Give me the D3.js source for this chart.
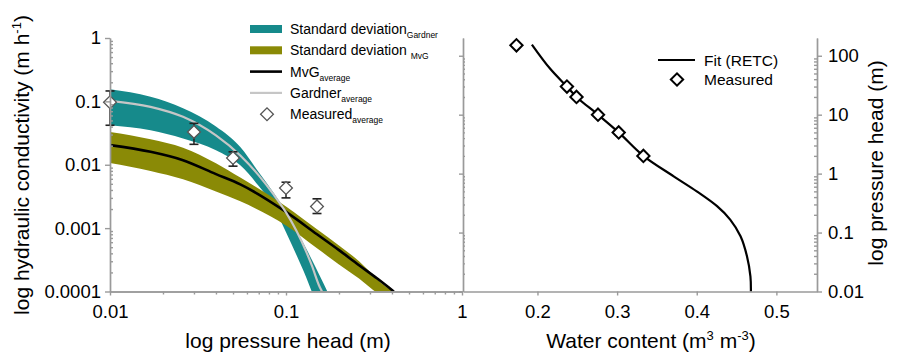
<!DOCTYPE html>
<html><head><meta charset="utf-8">
<script src="https://cdn.jsdelivr.net/npm/d3@7"></script>
<style>
body{margin:0;background:#fff}
svg{display:block}
text{font-family:"Liberation Sans",Arial,Helvetica,sans-serif;fill:#000}
</style>
</head><body>
<svg id="chart" width="898" height="359"></svg>
<script>
// ---------- DATA ----------
// Left panel: hydraulic conductivity K (m/h) vs pressure head h (m)
const tealH  = [0.01,0.017,0.026,0.04,0.055,0.07,0.085,0.1,0.115,0.13,0.14,0.155,0.175];
const tealHi = [0.155,0.118,0.078,0.040,0.019,0.0076,0.0036,0.0018,0.00092,0.00048,0.00032,0.00018,0.00009];
const tealLo = [0.042,0.035,0.026,0.017,0.0098,0.0046,0.0022,0.00086,0.00037,0.00017,0.0001,0.00005,0.000024];

const gardnerH = [0.01,0.017,0.026,0.04,0.055,0.07,0.085,0.1,0.115,0.13,0.14,0.155,0.16,0.165];
const gardnerK = [0.102,0.082,0.057,0.029,0.014,0.0068,0.0034,0.00177,0.00089,0.00043,0.00026,0.00012,0.0001,0.00008];

const oliveH  = [0.01,0.017,0.026,0.04,0.055,0.1,0.15,0.2,0.26,0.31,0.35,0.41];
const oliveHi = [0.033,0.0253,0.0186,0.0106,0.0063,0.0022,0.00096,0.00053,0.0003,0.000186,0.000134,0.0001];
const oliveLo = [0.0107,0.008,0.0059,0.0038,0.00265,0.0011,0.00048,0.000267,0.00016,0.000108,0.0000834,0.0000646];

const mvgH = [0.01,0.017,0.026,0.04,0.055,0.1,0.15,0.2,0.26,0.33,0.41];
const mvgK = [0.0204,0.016,0.0118,0.0071,0.0049,0.0018,0.0008,0.00045,0.00026,0.00016,0.0001];

const measH    = [0.01,0.03,0.05,0.1,0.15];
const measK    = [0.097,0.033,0.0128,0.0043,0.0022];
const measKlow = [0.042,0.021,0.0095,0.0030,0.0017];
const measKhi  = [0.146,0.045,0.016,0.0053,0.0029];

// Right panel: water retention, water content theta vs pressure head h (m)
const fitTheta = [0.193,0.216,0.237,0.249,0.276,0.302,0.333,0.371,0.400,0.4255,0.442,0.455,0.463,0.4674,0.468];
const fitHead  = [155,60,30,20,10,5,2,0.9,0.5,0.28,0.166,0.0865,0.04,0.018,0.01];
const wcTheta  = [0.1736,0.237,0.249,0.276,0.302,0.333];
const wcHead   = [150,30,20,10,5,2];

// Tick labels
const leftXTicks   = [0.01,0.1,1];
const leftXLabels  = ["0.01","0.1","1"];
const leftYTicks   = [1,0.1,0.01,0.001,0.0001];
const leftYLabels  = ["1","0.1","0.01","0.001","0.0001"];
const rightXTicks  = [0.2,0.3,0.4,0.5];
const rightXLabels = ["0.2","0.3","0.4","0.5"];
const rightYTicks  = [100,10,1,0.1,0.01];
const rightYLabels = ["100","10","1","0.1","0.01"];

// Legend entries
const legendMain = ["Standard deviation","Standard deviation ","MvG","Gardner","Measured"];
const legendSub  = ["Gardner","MvG","average","average","average"];
const legendKind = ["teal","olive","black","grey","diamond"];
const legend2Labels = ["Fit (RETC)","Measured"];
const legend2Kind   = ["line","diamond"];

// ---------- STYLE ----------
const TEAL = "#168a8b", OLIVE = "#8a8a06", AXIS = "#9a9a9a", GREY = "#c6c6c6";
const FS_TICK = 18.5, FS_TITLE = 21;

const svg = d3.select("#chart");

// ---------- SCALES ----------
const xL = d3.scaleLog().domain([0.01,1]).range([110,462]);
const yL = d3.scaleLog().domain([0.0001,1]).range([291.5,38]);
const xR = d3.scaleLinear().domain([0.1065,0.551]).range([463,817]);
const yR = d3.scaleLog().domain([0.01,200]).range([291.5,38]);

function minorLog(lo, hi){
  const out=[];
  for(let e=Math.floor(Math.log10(lo)); e<Math.ceil(Math.log10(hi)); e++){
    for(let m=2;m<=9;m++){const v=m*Math.pow(10,e); if(v>lo&&v<hi) out.push(v);}
  }
  return out;
}
function styleAxis(g){
  g.selectAll("path,line").attr("stroke",AXIS).attr("stroke-width",1.4);
  g.selectAll("text").style("font-size",FS_TICK+"px").attr("fill","#000");
}

// ---------- LEFT PANEL ----------
const defs = svg.append("defs");
defs.append("clipPath").attr("id","clipL").append("rect")
  .attr("x",110).attr("y",20).attr("width",352).attr("height",271.5);

const plotL = svg.append("g").attr("clip-path","url(#clipL)");

const tealData = tealH.map((h,i)=>({h,lo:tealLo[i],hi:tealHi[i]}));
const oliveData = oliveH.map((h,i)=>({h,lo:oliveLo[i],hi:oliveHi[i]}));
const band = d3.area().x(d=>xL(d.h)).y0(d=>yL(d.lo)).y1(d=>yL(d.hi)).curve(d3.curveMonotoneX);

plotL.append("path").datum(tealData).attr("d",band).attr("fill",TEAL);
plotL.append("path").datum(oliveData).attr("d",band).attr("fill",OLIVE);

const lineL = d3.line().x(d=>xL(d[0])).y(d=>yL(d[1])).curve(d3.curveMonotoneX);
plotL.append("path").datum(mvgH.map((h,i)=>[h,mvgK[i]])).attr("d",lineL)
  .attr("fill","none").attr("stroke","#000").attr("stroke-width",2.6);
plotL.append("path").datum(gardnerH.map((h,i)=>[h,gardnerK[i]])).attr("d",lineL)
  .attr("fill","none").attr("stroke",GREY).attr("stroke-width",2.2);

// measured with error bars
const meas = measH.map((h,i)=>({h,k:measK[i],lo:measKlow[i],hi:measKhi[i]}));
const eb = svg.append("g");
eb.selectAll("line.v").data(meas).join("line")
  .attr("x1",d=>xL(d.h)).attr("x2",d=>xL(d.h)).attr("y1",d=>yL(d.lo)).attr("y2",d=>yL(d.hi))
  .attr("stroke","#222").attr("stroke-width",1.5);
eb.selectAll("line.t").data(meas).join("line")
  .attr("x1",d=>xL(d.h)-4.5).attr("x2",d=>xL(d.h)+4.5).attr("y1",d=>yL(d.hi)).attr("y2",d=>yL(d.hi))
  .attr("stroke","#222").attr("stroke-width",1.6);
eb.selectAll("line.b").data(meas).join("line")
  .attr("x1",d=>xL(d.h)-4.5).attr("x2",d=>xL(d.h)+4.5).attr("y1",d=>yL(d.lo)).attr("y2",d=>yL(d.lo))
  .attr("stroke","#222").attr("stroke-width",1.6);
const sq = d3.symbol().type(d3.symbolSquare);
eb.selectAll("path.d").data(meas).join("path")
  .attr("d",sq.size(82)())
  .attr("transform",d=>`translate(${xL(d.h)},${yL(d.k)}) rotate(45)`)
  .attr("fill","#fff").attr("stroke","#555").attr("stroke-width",1.3);

// left axes
svg.append("g").attr("transform","translate(0,291.5)")
  .call(d3.axisBottom(xL).tickValues(minorLog(0.01,1)).tickSize(3).tickFormat("").tickSizeOuter(0))
  .call(styleAxis);
svg.append("g").attr("transform","translate(0,291.5)")
  .call(d3.axisBottom(xL).tickValues(leftXTicks).tickSize(4).tickPadding(9)
        .tickFormat((d,i)=>leftXLabels[i]).tickSizeOuter(0))
  .call(styleAxis);
svg.append("g").attr("transform","translate(110,0)")
  .call(d3.axisRight(yL).tickValues(minorLog(0.0001,1)).tickSize(3).tickFormat("").tickSizeOuter(0))
  .call(styleAxis);
svg.append("g").attr("transform","translate(110,0)")
  .call(d3.axisLeft(yL).tickValues(leftYTicks).tickSize(5).tickPadding(4)
        .tickFormat((d,i)=>leftYLabels[i]).tickSizeOuter(0))
  .call(styleAxis);

// left titles
svg.append("text").attr("x",288).attr("y",348).attr("text-anchor","middle")
  .style("font-size",FS_TITLE+"px").text("log pressure head (m)");
const yt = svg.append("text").attr("transform","translate(29,165) rotate(-90)")
  .attr("text-anchor","middle").style("font-size",FS_TITLE+"px");
yt.append("tspan").text("log hydraulic conductivity (m h");
yt.append("tspan").attr("dy",-8).style("font-size","13px").text("-1");
yt.append("tspan").attr("dy",8).text(")");

// left legend
const lg = svg.append("g");
legendMain.forEach((lab,i)=>{
  const cy = 29 + i*21.3;
  const k = legendKind[i];
  if(k==="teal"||k==="olive"){
    lg.append("rect").attr("x",250).attr("y",cy-4).attr("width",32).attr("height",8)
      .attr("fill",k==="teal"?TEAL:OLIVE);
  } else if(k==="black"||k==="grey"){
    lg.append("line").attr("x1",250).attr("x2",282).attr("y1",cy).attr("y2",cy)
      .attr("stroke",k==="black"?"#000":GREY).attr("stroke-width",k==="black"?2.6:2.2);
  } else {
    lg.append("path").attr("d",sq.size(82)())
      .attr("transform",`translate(267,${cy}) rotate(45)`)
      .attr("fill","#fff").attr("stroke","#555").attr("stroke-width",1.3);
  }
  const t = lg.append("text").attr("x",290).attr("y",cy+5).style("font-size","14px");
  t.append("tspan").text(lab);
  t.append("tspan").attr("dy",4).style("font-size","8.5px").text(legendSub[i]);
});

// ---------- RIGHT PANEL ----------
const lineR = d3.line().x(d=>xR(d[0])).y(d=>yR(d[1])).curve(d3.curveCatmullRom.alpha(0.5));
svg.append("path").datum(fitTheta.map((t,i)=>[t,fitHead[i]])).attr("d",lineR)
  .attr("fill","none").attr("stroke","#000").attr("stroke-width",2.2);
svg.selectAll("path.wc").data(wcTheta.map((t,i)=>[t,wcHead[i]])).join("path")
  .attr("d",sq.size(76)())
  .attr("transform",d=>`translate(${xR(d[0])},${yR(d[1])}) rotate(45)`)
  .attr("fill","#fff").attr("stroke","#000").attr("stroke-width",2);

// right axes
svg.append("g").attr("transform","translate(0,291.5)")
  .call(d3.axisBottom(xR).tickValues(rightXTicks).tickSize(4).tickPadding(9)
        .tickFormat((d,i)=>rightXLabels[i]).tickSizeOuter(0))
  .call(styleAxis);
svg.append("g").attr("transform","translate(463,0)")
  .call(d3.axisLeft(yR).tickValues(rightYTicks).tickSize(4).tickFormat("").tickSizeOuter(0))
  .call(styleAxis);
svg.append("g").attr("transform","translate(463,0)")
  .call(d3.axisRight(yR).tickValues(minorLog(0.01,200)).tickSize(2).tickFormat("").tickSizeOuter(0))
  .call(styleAxis);
svg.append("g").attr("transform","translate(817,0)")
  .call(d3.axisLeft(yR).tickValues(minorLog(0.01,200)).tickSize(3).tickFormat("").tickSizeOuter(0))
  .call(styleAxis);
svg.append("g").attr("transform","translate(817,0)")
  .call(d3.axisRight(yR).tickValues(rightYTicks).tickSize(5).tickPadding(6)
        .tickFormat((d,i)=>rightYLabels[i]).tickSizeOuter(0))
  .call(styleAxis);

// right titles
const xt = svg.append("text").attr("x",651).attr("y",348).attr("text-anchor","middle")
  .style("font-size",FS_TITLE+"px");
xt.append("tspan").text("Water content (m");
xt.append("tspan").attr("dy",-8).style("font-size","13px").text("3");
xt.append("tspan").attr("dy",8).text(" m");
xt.append("tspan").attr("dy",-8).style("font-size","13px").text("-3");
xt.append("tspan").attr("dy",8).text(")");
svg.append("text").attr("transform","translate(883,163) rotate(-90)")
  .attr("text-anchor","middle").style("font-size",FS_TITLE+"px").text("log pressure head (m)");

// right legend
legend2Labels.forEach((lab,i)=>{
  const cy = 60 + i*19.5;
  if(legend2Kind[i]==="line"){
    svg.append("line").attr("x1",658).attr("x2",695).attr("y1",cy).attr("y2",cy)
      .attr("stroke","#000").attr("stroke-width",2.2);
  } else {
    svg.append("path").attr("d",sq.size(76)())
      .attr("transform",`translate(677,${cy}) rotate(45)`)
      .attr("fill","#fff").attr("stroke","#000").attr("stroke-width",2);
  }
  svg.append("text").attr("x",704).attr("y",cy+5.5).style("font-size","15.5px").text(lab);
});
</script>
</body></html>
